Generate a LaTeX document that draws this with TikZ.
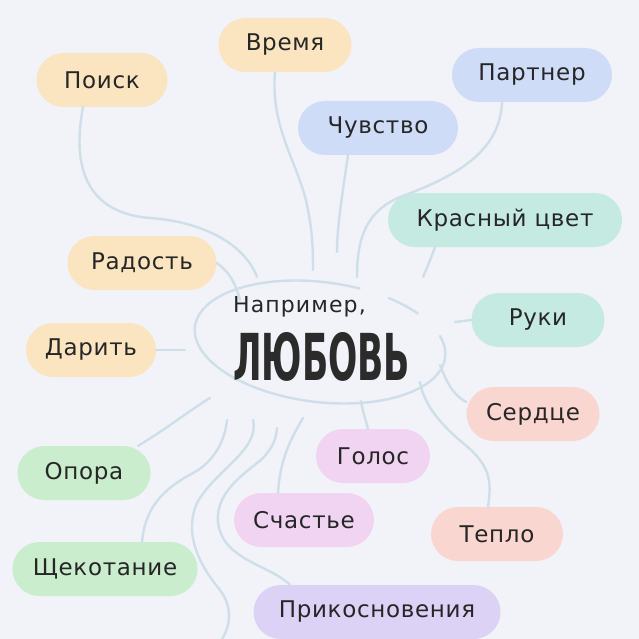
\documentclass[tikz,border=0pt]{standalone}
\usepackage{fontspec}
\setmainfont{DejaVu Sans}
\usepackage{graphicx}
\usetikzlibrary{shapes.misc}

\definecolor{bgcol}{HTML}{F1F3F8}
\definecolor{linecol}{HTML}{CFDFEA}
\definecolor{inkcol}{HTML}{262626}
\definecolor{titlecol}{HTML}{2B2B2B}
\definecolor{sandcol}{HTML}{FBE5C0}
\definecolor{skycol}{HTML}{CFDCF7}
\definecolor{mintcol}{HTML}{C5EAE2}
\definecolor{rosecol}{HTML}{F9D6D0}
\definecolor{orchidcol}{HTML}{F0D4F2}
\definecolor{lilaccol}{HTML}{DCD2F5}
\definecolor{leafcol}{HTML}{CAEDCD}

\tikzset{
  idea/.style={rounded rectangle, minimum height=54pt, inner sep=0pt, text=inkcol,
    font=\fontsize{23}{27}\selectfont\addfontfeature{LetterSpace=3}},
  sand/.style={idea, fill=sandcol},
  sky/.style={idea, fill=skycol},
  mint/.style={idea, fill=mintcol},
  rose/.style={idea, fill=rosecol},
  orchid/.style={idea, fill=orchidcol},
  lilac/.style={idea, fill=lilaccol},
  leaf/.style={idea, fill=leafcol},
  link/.style={draw=linecol, line width=2.4pt, line cap=round},
}

\begin{document}
\begin{tikzpicture}[x=1pt,y=-1pt]
    \fill[bgcol] (0,0) rectangle (639,639);
    \useasboundingbox (0,0) rectangle (639,639);

    % Loose ring round the topic
    \draw[link, shift={(320,342)}, rotate=-7] (-20:126 and 60) arc[start angle=-20, end angle=285, x radius=126, y radius=60];
    \draw[link, shift={(320,342)}, rotate=-7] (-60:126 and 60) arc[start angle=-60, end angle=-42, x radius=126, y radius=60];

    % Topic
    \node[anchor=base west, inner sep=0pt, text=inkcol, font=\fontsize{22}{26}\selectfont\addfontfeature{LetterSpace=5}] (lead) at (233,312) {Например,};
    \node[anchor=base west, inner sep=0pt, text=titlecol] (topic) at (233,380) {\resizebox{177pt}{48pt}{\bfseries ЛЮБОВЬ}};

    % Ideas round it
    \node[sand, minimum width=131pt] (poisk) at (102,80) {Поиск};
    \node[sand, minimum width=133pt] (vremya) at (285,45) {Время};
    \node[sky, minimum width=160pt] (partner) at (532,75) {Партнер};
    \node[sky, minimum width=160pt] (chuvstvo) at (378,128) {Чувство};
    \node[mint, minimum width=234pt] (krasny) at (505,220) {Красный цвет};
    \node[sand, minimum width=149pt] (radost) at (142,263) {Радость};
    \node[mint, minimum width=133pt] (ruki) at (538,320) {Руки};
    \node[sand, minimum width=130pt] (darit) at (91,350) {Дарить};
    \node[rose, minimum width=133pt] (serdce) at (533,414) {Сердце};
    \node[orchid, minimum width=114pt] (golos) at (373,456) {Голос};
    \node[leaf, minimum width=133pt] (opora) at (84,473) {Опора};
    \node[orchid, minimum width=140pt] (schastye) at (304,520) {Счастье};
    \node[rose, minimum width=132pt] (teplo) at (497,534) {Тепло};
    \node[leaf, minimum width=185pt] (shchekotanie) at (105,569) {Щекотание};
    \node[lilac, minimum width=247pt] (prikosnoveniya) at (377,612) {Прикосновения};

    % Free ends near the ring
    \coordinate (poiskEnd) at (257,277);
    \coordinate (vremyaEnd) at (313,270);
    \coordinate (chuvstvoEnd) at (337,252);
    \coordinate (partnerEnd) at (357,277);
    \coordinate (krasnyEnd) at (423,277);
    \coordinate (rukiEnd) at (455,322);
    \coordinate (serdceEnd) at (440,365);
    \coordinate (teploEnd) at (420,382);
    \coordinate (golosEnd) at (361,401);
    \coordinate (schastyeEnd) at (303,418);
    \coordinate (prikEnd) at (277,428);
    \coordinate (strayTop) at (253,420);
    \coordinate (strayBottom) at (222,639);
    \coordinate (shchekEnd) at (227,420);
    \coordinate (oporaEnd) at (210,398);
    \coordinate (daritEnd) at (185,350);
    \coordinate (radostEnd) at (240,300);

    % Draw the wavy links
    \draw[link] ([xshift=-19pt]poisk.south) .. controls (72,165) and (85,213) .. (150,218) .. controls (205,222) and (245,245) .. (poiskEnd);
    \draw[link] ([xshift=-10pt]vremya.south) .. controls (270,130) and (300,165) .. (308,210) .. controls (313,235) and (313,255) .. (vremyaEnd);
    \draw[link] ([xshift=-30pt]chuvstvo.south) .. controls (343,190) and (337,225) .. (chuvstvoEnd);
    \draw[link] ([xshift=-30pt]partner.south) .. controls (500,150) and (460,175) .. (400,197) .. controls (365,212) and (357,240) .. (partnerEnd);
    \draw[link] ([xshift=-70pt]krasny.south) .. controls (431,258) and (427,268) .. (krasnyEnd);
    \draw[link] (ruki.west) -- (rukiEnd);
    \draw[link] ([yshift=12pt]serdce.west) .. controls (452,395) and (445,378) .. (serdceEnd);
    \draw[link] ([xshift=-9pt]teplo.north) .. controls (492,480) and (490,465) .. (463,443) .. controls (435,420) and (423,400) .. (teploEnd);
    \draw[link] ([xshift=-5pt]golos.north) .. controls (365,418) and (362,408) .. (golosEnd);
    \draw[link] ([xshift=-26pt]schastye.north) .. controls (280,460) and (290,440) .. (schastyeEnd);
    \draw[link] ([xshift=-87pt]prikosnoveniya.north) .. controls (270,565) and (222,560) .. (218,522) .. controls (215,490) and (250,470) .. (263,458) .. controls (272,448) and (276,440) .. (prikEnd);
    \draw[link] (strayTop) .. controls (260,450) and (215,470) .. (197,503) .. controls (185,530) and (195,560) .. (220,590) .. controls (235,610) and (228,630) .. (strayBottom);
    \draw[link] ([xshift=37pt]shchekotanie.north) .. controls (145,510) and (160,490) .. (195,472) .. controls (215,460) and (225,440) .. (shchekEnd);
    \draw[link] ([xshift=54pt]opora.north) .. controls (165,430) and (190,410) .. (oporaEnd);
    \draw[link] (darit.east) -- (daritEnd);
    \draw[link] (radost.east) .. controls (230,272) and (236,285) .. (radostEnd);
\end{tikzpicture}
\end{document}
